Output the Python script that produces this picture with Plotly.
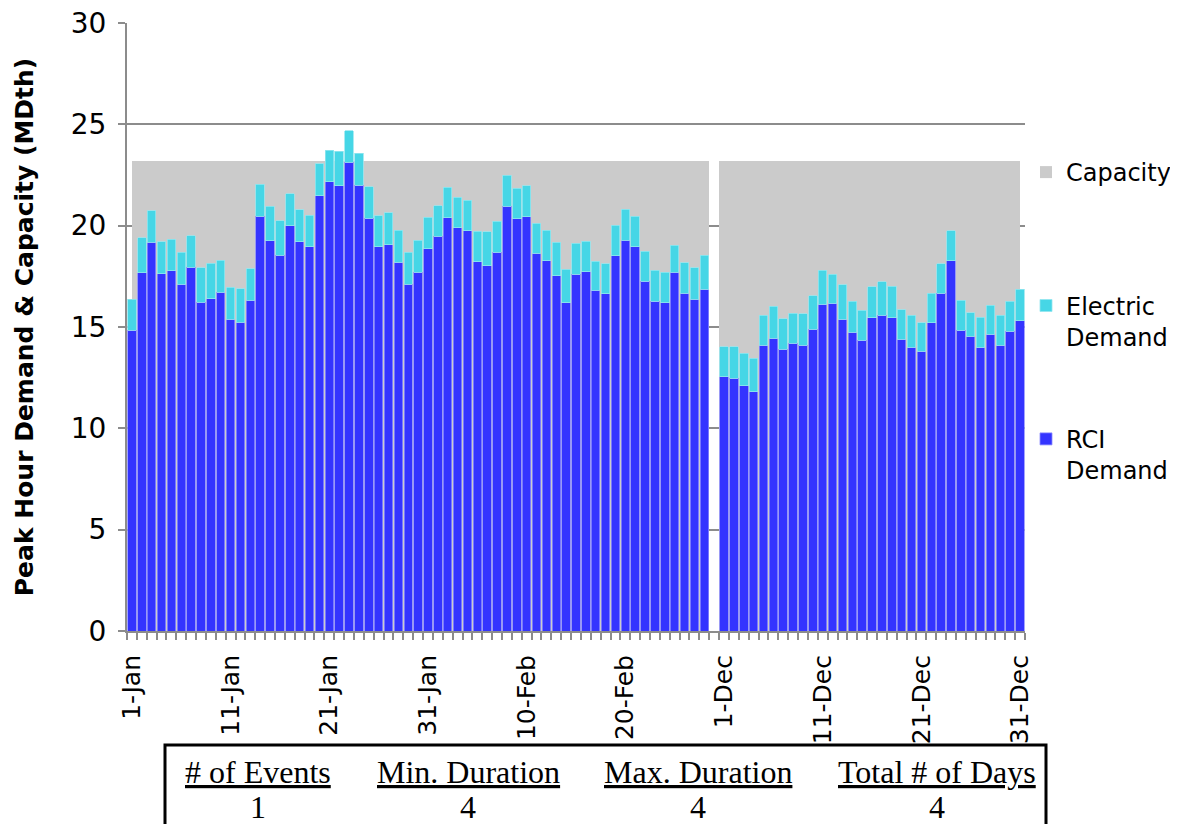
import plotly.graph_objects as go

# ---------------- data ----------------
jan_feb_dates = [f"{d}-Jan" for d in range(1, 32)] + [f"{d}-Feb" for d in range(1, 29)]
dec_dates = [f"{d}-Dec" for d in range(1, 32)]

# RCI demand (MDth)
rci_jan_feb = [14.85, 17.68, 19.17, 17.63, 17.78, 17.12, 17.96, 16.21, 16.39, 16.72,
               15.39, 15.24, 16.31, 20.46, 19.26, 18.53, 20.00, 19.21, 18.96, 21.48,
               22.17, 21.97, 23.14, 21.99, 20.37, 18.96, 19.07, 18.20, 17.12, 17.70,
               18.86, 19.47, 20.39, 19.90, 19.75, 18.22, 18.02, 18.70, 20.97, 20.34,
               20.44, 18.63, 18.27, 17.53, 16.20, 17.61, 17.73, 16.82, 16.64, 18.52,
               19.27, 18.96, 17.25, 16.28, 16.20, 17.71, 16.66, 16.38, 16.86]
rci_dec = [12.55, 12.47, 12.10, 11.80, 14.10, 14.45, 13.90, 14.20, 14.10, 14.90,
           16.13, 16.17, 15.39, 14.75, 14.35, 15.46, 15.57, 15.45, 14.40, 14.00,
           13.80, 15.20, 16.66, 18.27, 14.85, 14.55, 14.00, 14.65, 14.11, 14.80, 15.31]

# Electric demand (MDth)
elec_jan_feb = [1.53, 1.72, 1.57, 1.58, 1.56, 1.56, 1.54, 1.71, 1.75, 1.58,
                1.58, 1.65, 1.57, 1.58, 1.71, 1.71, 1.57, 1.58, 1.56, 1.57,
                1.56, 1.71, 1.54, 1.58, 1.55, 1.54, 1.57, 1.58, 1.56, 1.57,
                1.56, 1.51, 1.51, 1.51, 1.51, 1.51, 1.68, 1.53, 1.53, 1.50,
                1.53, 1.50, 1.51, 1.66, 1.66, 1.52, 1.51, 1.42, 1.47, 1.49,
                1.53, 1.50, 1.50, 1.51, 1.51, 1.33, 1.51, 1.54, 1.67]
elec_dec = [1.48, 1.56, 1.60, 1.65, 1.47, 1.58, 1.51, 1.47, 1.55, 1.63,
            1.66, 1.44, 1.70, 1.53, 1.47, 1.53, 1.66, 1.57, 1.45, 1.59,
            1.40, 1.47, 1.46, 1.48, 1.48, 1.15, 1.48, 1.43, 1.48, 1.48, 1.55]

capacity_value = 23.2

categories = jan_feb_dates + [""] + dec_dates
rci = rci_jan_feb + [None] + rci_dec
electric = elec_jan_feb + [None] + elec_dec
capacity = [capacity_value] * len(jan_feb_dates) + [None] + [capacity_value] * len(dec_dates)

tick_labels = ["1-Jan", "11-Jan", "21-Jan", "31-Jan", "10-Feb", "20-Feb",
               "1-Dec", "11-Dec", "21-Dec", "31-Dec"]

table_headers = ["# of Events", "Min. Duration", "Max. Duration", "Total # of Days"]
table_values = ["1", "4", "4", "4"]

# ---------------- build ----------------
x = list(range(len(categories)))
tick_vals = [categories.index(t) for t in tick_labels]
n = len(categories)

# capacity drawn like an area between first and last day centres
cap_w, cap_off = [], []
for i, v in enumerate(capacity):
    left = i if i == 0 else i - 0.5
    right = i if i == n - 1 else i + 0.5
    cap_w.append(right - left)
    cap_off.append(left - i)

# page body has an 8px margin -> figure sits at (8, 8) on the page
PAGE_OFF = 8
W, H = 1178 - PAGE_OFF, 824 - PAGE_OFF
PLOT_X0, PLOT_X1, PLOT_Y0, PLOT_Y1 = 127, 1025, 23, 631   # screen px
L = PLOT_X0 - PAGE_OFF
T = PLOT_Y0 - PAGE_OFF
R = 1178 - PLOT_X1
B = 824 - PLOT_Y1
PW, PH = PLOT_X1 - PLOT_X0, PLOT_Y1 - PLOT_Y0


def px_x(px):
    return (px - PLOT_X0) / PW


def px_y(py):
    return (PLOT_Y1 - py) / PH


fig = go.Figure()
fig.add_trace(go.Bar(
    x=x, y=capacity, width=cap_w, offset=cap_off, name="Capacity<br> ",
    marker=dict(color="#CBCBCB", line=dict(width=0)),
    legendgroup="cap", legendrank=1, xaxis="x", yaxis="y",
    hovertemplate="%{y}<extra>Capacity</extra>"))
fig.add_trace(go.Bar(
    x=x, y=rci, name="RCI<br>Demand", width=0.86,
    marker=dict(color="#3434FF", line=dict(width=0.8, color="#8C8CFF")),
    legendgroup="rci", legendrank=3, xaxis="x2", yaxis="y2"))
fig.add_trace(go.Bar(
    x=x, y=electric, name="Electric<br>Demand", width=0.86,
    marker=dict(color="#46D6E6", line=dict(width=0.8, color="#93E6EF")),
    legendgroup="ele", legendrank=2, xaxis="x2", yaxis="y2"))

axis_gray = "#8C8C8C"
fig.update_layout(
    width=W, height=H,
    margin=dict(l=L, r=R, t=T, b=B, autoexpand=False),
    paper_bgcolor="white", plot_bgcolor="white",
    barmode="stack",
    font=dict(family="DejaVu Sans", color="#000000"),
    showlegend=True,
    legend=dict(x=px_x(1026), xanchor="left", y=px_y(150), yanchor="top",
                font=dict(family="DejaVu Sans", size=24, color="#000000"),
                traceorder="grouped", tracegroupgap=68, valign="top",
                bgcolor="rgba(0,0,0,0)"),
    xaxis=dict(range=[-0.5, n - 0.5], tickmode="array", tickvals=tick_vals,
               ticktext=tick_labels, tickangle=-90, ticks="",
               tickfont=dict(family="DejaVu Sans", size=25, color="#000000"),
               ticklabelstandoff=12, ticklabeloverflow="allow",
               showline=True, linecolor=axis_gray, linewidth=2,
               showgrid=False, zeroline=False,
               minor=dict(tick0=-0.5, dtick=1, ticks="outside", ticklen=7,
                          tickcolor=axis_gray, tickwidth=1.5, showgrid=False)),
    yaxis=dict(range=[0, 30], tick0=0, dtick=5, ticks="outside", ticklen=7,
               tickcolor=axis_gray, tickwidth=1.5,
               tickfont=dict(family="DejaVu Sans", size=28, color="#000000"),
               ticklabelstandoff=6, ticklabeloverflow="allow",
               showgrid=True, gridcolor=axis_gray, gridwidth=1.5,
               showline=True, linecolor=axis_gray, linewidth=2, zeroline=False,
               automargin=False,
               title=dict(text="Peak Hour Demand & Capacity (MDth)", standoff=30,
                          font=dict(family="DejaVu Sans", size=25, weight="bold",
                                    color="#000000"))),
    xaxis2=dict(overlaying="x", range=[-0.5, n - 0.5], visible=False),
    yaxis2=dict(overlaying="y", range=[0, 30], visible=False),
)

# statistics table below the chart
fig.add_shape(type="rect", xref="paper", yref="paper",
              x0=px_x(165), x1=px_x(1046), y0=px_y(745), y1=px_y(850),
              line=dict(color="black", width=3), fillcolor="rgba(0,0,0,0)")
col_centres = [258, 468, 698, 937]
for cx, head, val in zip(col_centres, table_headers, table_values):
    fig.add_annotation(x=px_x(cx), y=px_y(772), xref="paper", yref="paper",
                       text=f"<u>{head}</u>", showarrow=False,
                       xanchor="center", yanchor="middle",
                       font=dict(family="Liberation Serif", size=32, color="black"))
    fig.add_annotation(x=px_x(cx), y=px_y(807), xref="paper", yref="paper",
                       text=val, showarrow=False,
                       xanchor="center", yanchor="middle",
                       font=dict(family="Liberation Serif", size=32, color="black"))

fig.write_html("out.html")
